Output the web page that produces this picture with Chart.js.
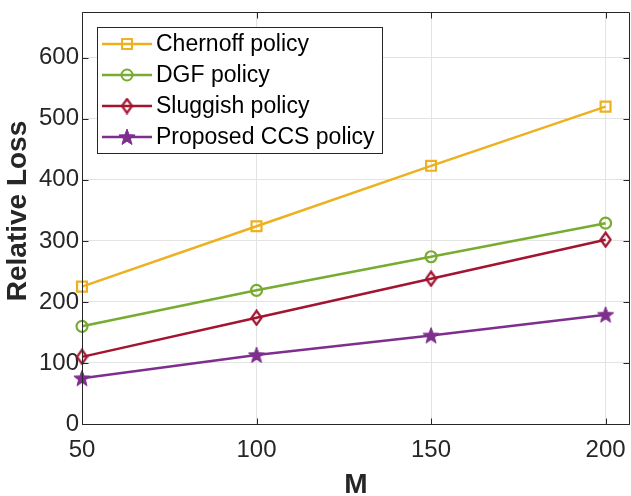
<!DOCTYPE html>
<html>
<head>
<meta charset="utf-8">
<script src="https://cdn.jsdelivr.net/npm/chart.js@4.4.1/dist/chart.umd.min.js"></script>
<style>
  html, body { margin: 0; padding: 0; background: #fff; }
  #wrap { width: 631px; height: 496px; }
</style>
</head>
<body>
<div id="wrap"><canvas id="lossChart" width="631" height="496"></canvas></div>
<script>
// values
const mValues = [50, 100, 150, 200];
const chernoff = [225, 324, 423, 520];
const dgf = [160, 219, 274, 329];
const sluggish = [110, 174, 238, 302];
const ccs = [75, 113, 145, 179];
const xTicks = [50, 100, 150, 200];
const yTicks = [0, 100, 200, 300, 400, 500, 600];
const seriesNames = ['Chernoff policy', 'DGF policy', 'Sluggish policy', 'Proposed CCS policy'];
const yTitle = 'Relative Loss';

const AXIS = '#262626';
const FONT = '"Liberation Sans", Arial, Helvetica, sans-serif';

function diamondMarker(color) {
    const c = document.createElement('canvas');
    c.width = 13; c.height = 17;
    const g = c.getContext('2d');
    g.strokeStyle = color; g.lineWidth = 2.2;
    g.beginPath();
    g.moveTo(6.5, 1.5); g.lineTo(11.5, 8.5); g.lineTo(6.5, 15.5); g.lineTo(1.5, 8.5);
    g.closePath(); g.stroke();
    return c;
}

function starMarker(color) {
    const c = document.createElement('canvas');
    c.width = 18; c.height = 18;
    const g = c.getContext('2d');
    g.fillStyle = color; g.strokeStyle = color; g.lineWidth = 1;
    const R = 8.5, r = R * 0.42, cx = 9, cy = 9.6;
    g.beginPath();
    for (let i = 0; i < 10; i++) {
        const rad = i % 2 ? r : R;
        const a = -Math.PI / 2 + i * Math.PI / 5;
        const px = cx + rad * Math.cos(a), py = cy + rad * Math.sin(a);
        if (i === 0) g.moveTo(px, py); else g.lineTo(px, py);
    }
    g.closePath(); g.fill(); g.stroke();
    return c;
}

const colors = ['#EDB120', '#77AC30', '#A2142F', '#7E2F8E'];
const styles = ['rect', 'circle', diamondMarker(colors[2]), starMarker(colors[3])];
const radii = [7, 5.5, 6, 6];
const values = [chernoff, dgf, sluggish, ccs];

const boxAndLegend = {
    id: 'boxAndLegend',
    afterDraw(chart) {
        const ctx = chart.ctx;
        const a = chart.chartArea;
        const xs = chart.scales.x, ys = chart.scales.y;
        ctx.save();
        ctx.strokeStyle = AXIS;
        ctx.lineWidth = 1;
        const L = Math.round(a.left) + 0.5, R = Math.round(a.right) - 0.5;
        const T = Math.round(a.top) + 0.5, B = Math.round(a.bottom) + 0.5;
        ctx.beginPath();
        ctx.rect(L, T, R - L, B - T);
        // inward ticks
        yTicks.forEach(v => {
            const y = Math.round(ys.getPixelForValue(v)) + 0.5;
            ctx.moveTo(L, y); ctx.lineTo(L + 6, y);
            ctx.moveTo(R, y); ctx.lineTo(R - 6, y);
        });
        xTicks.forEach(v => {
            const x = Math.round(xs.getPixelForValue(v)) + 0.5;
            ctx.moveTo(x, B); ctx.lineTo(x, B - 6);
            ctx.moveTo(x, T); ctx.lineTo(x, T + 6);
        });
        ctx.stroke();

        // y title (slightly above the plot centre, as in the figure)
        ctx.save();
        ctx.translate(18, 211);
        ctx.rotate(-Math.PI / 2);
        ctx.font = 'bold 28px ' + FONT;
        ctx.fillStyle = AXIS;
        ctx.textAlign = 'center';
        ctx.textBaseline = 'middle';
        ctx.fillText(yTitle, 0, 0);
        ctx.restore();

        // legend
        const lx = 97.5, ly = 27.5, lw = 285, lh = 126;
        ctx.fillStyle = '#fff';
        ctx.fillRect(lx, ly, lw, lh);
        ctx.strokeStyle = AXIS;
        ctx.strokeRect(lx, ly, lw, lh);
        ctx.font = '23px ' + FONT;
        ctx.textBaseline = 'middle';
        ctx.textAlign = 'left';
        chart.data.datasets.forEach((ds, i) => {
            const y = 44 + i * 31;
            ctx.strokeStyle = ds.borderColor;
            ctx.lineWidth = 2.5;
            ctx.beginPath();
            ctx.moveTo(102, y); ctx.lineTo(152, y);
            ctx.stroke();
            const st = ds.pointStyle;
            const cx = 127;
            ctx.lineWidth = 2;
            if (st === 'rect') {
                const s = ds.pointRadius * Math.SQRT1_2;
                ctx.strokeRect(cx - s, y - s, 2 * s, 2 * s);
            } else if (st === 'circle') {
                ctx.beginPath();
                ctx.arc(cx, y, ds.pointRadius, 0, Math.PI * 2);
                ctx.stroke();
            } else {
                ctx.drawImage(st, cx - st.width / 2, y - st.height / 2);
            }
            ctx.fillStyle = '#000';
            ctx.fillText(ds.label, 156, y + 1);
        });
        ctx.restore();
    }
};

new Chart(document.getElementById('lossChart').getContext('2d'), {
    type: 'line',
    data: {
        datasets: values.map((vals, i) => ({
            label: seriesNames[i],
            data: mValues.map((m, j) => ({ x: m, y: vals[j] })),
            borderColor: colors[i],
            backgroundColor: 'rgba(255,255,255,0)',
            borderWidth: 2.5,
            pointStyle: styles[i],
            pointRadius: radii[i],
            pointBorderWidth: 2.2,
            pointBorderColor: colors[i],
            pointBackgroundColor: 'rgba(255,255,255,0)',
            tension: 0,
            clip: false
        }))
    },
    options: {
        responsive: false,
        animation: false,
        events: [],
        layout: { autoPadding: false, padding: { top: 12, right: 1, left: 0, bottom: 0 } },
        plugins: { legend: { display: false }, tooltip: { enabled: false } },
        scales: {
            x: {
                type: 'linear', min: 50, max: 207,
                afterBuildTicks: s => { s.ticks = xTicks.map(v => ({ value: v })); },
                afterFit: s => { s.height = 72; s.paddingLeft = 0; s.paddingRight = 0; },
                grid: { color: '#e3e3e3', drawTicks: false },
                border: { display: false },
                ticks: { color: AXIS, padding: 12, maxRotation: 0, font: { family: FONT, size: 24 } },
                title: { display: true, text: 'M', color: AXIS, padding: { top: 0, bottom: -6 },
                         font: { family: FONT, size: 28, weight: 'bold' } }
            },
            y: {
                min: 0, max: 675,
                afterBuildTicks: s => { s.ticks = yTicks.map(v => ({ value: v })); },
                afterFit: s => { s.width = 82; s.paddingTop = 0; s.paddingBottom = 0; },
                grid: { color: '#e3e3e3', drawTicks: false },
                border: { display: false },
                ticks: { color: AXIS, padding: 3, font: { family: FONT, size: 24 } },
                title: { display: false }
            }
        }
    },
    plugins: [boxAndLegend]
});
</script>
</body>
</html>
